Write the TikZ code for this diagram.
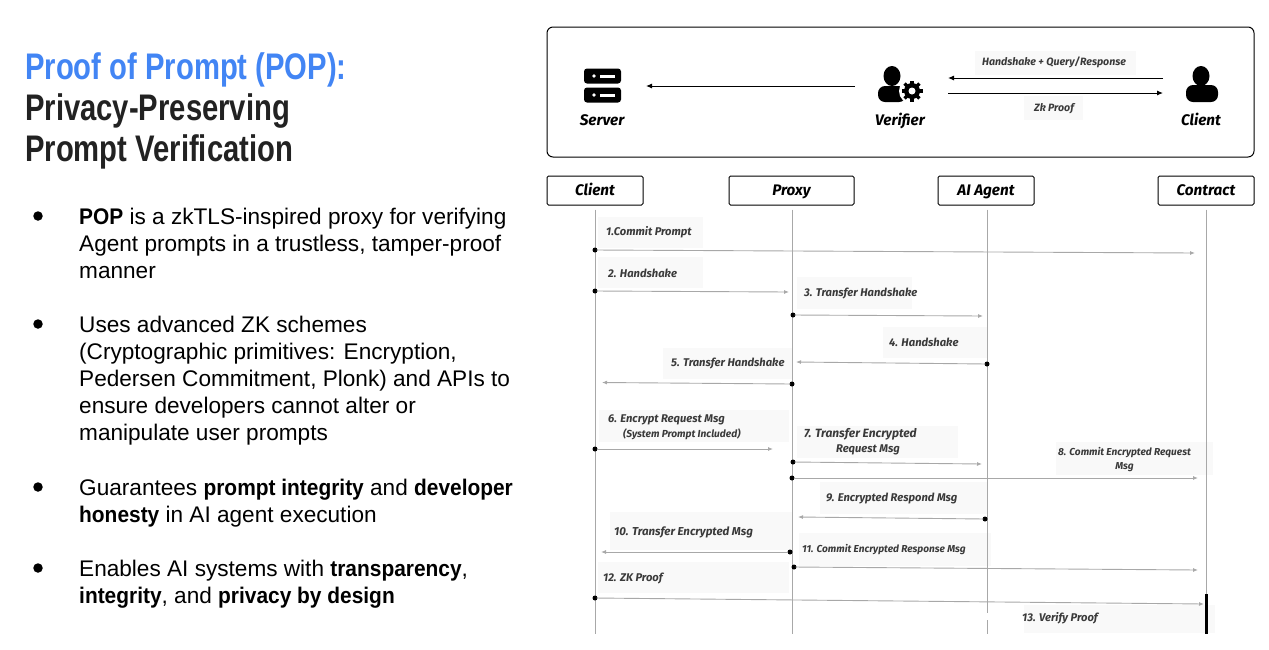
\documentclass[tikz,border=0pt]{standalone}
\usepackage{fontspec}
\setmainfont[BoldFeatures={FakeStretch=0.925}]{Liberation Sans}
\newfontfamily\titlefont[FakeStretch=0.79]{Liberation Sans}
\newfontfamily\diagfont{Fira Sans}
\usepackage{tikz}
\usetikzlibrary{arrows.meta, positioning}
\definecolor{popblue}{HTML}{4285F4}
\definecolor{titledark}{HTML}{222222}
\definecolor{labelbg}{HTML}{F9F9F9}
\definecolor{lifegray}{HTML}{A8A8A8}
\definecolor{msgdark}{HTML}{3A3A3A}

\begin{document}
\begin{tikzpicture}[x=1pt,y=-1pt,
     titleline/.style={anchor=base west,inner sep=0pt,font=\titlefont\bfseries\fontsize{37}{37}\selectfont},
     bullettext/.style={anchor=north west,inner sep=0pt,align=left,font=\fontsize{22.6}{27}\selectfont},
     bulletdot/.style={circle,fill=black,inner sep=0pt,minimum size=9.5pt},
     actor/.style={draw=black,line width=1pt,rounded corners=1.5pt,minimum height=29pt,inner sep=0pt,text height=11.5pt,text depth=1.5pt,font=\diagfont\bfseries\itshape\fontsize{15.3}{16}\selectfont},
     iconlabel/.style={inner sep=0pt,text height=11.5pt,text depth=1.5pt,font=\diagfont\bfseries\itshape\fontsize{15.3}{16}\selectfont},
     msglabel/.style={anchor=west,inner sep=0pt,align=left,text=msgdark,font=\diagfont\bfseries\itshape\fontsize{11.2}{15}\selectfont},
     smallmsg/.style={msglabel,font=\diagfont\bfseries\itshape\fontsize{10.1}{14.5}\selectfont},
     toplabel/.style={inner sep=0pt,text=msgdark,font=\diagfont\bfseries\itshape\fontsize{10.6}{12}\selectfont},
     dot/.style={circle,fill=black,inner sep=0pt,minimum size=5pt},
     msgarrow/.style={draw=lifegray,line width=0.9pt,-{Latex[length=5pt,width=4pt]},shorten <=-1pt},
     flow/.style={draw=black,line width=1pt,-{Latex[length=6pt,width=5pt]}},
     lifeline/.style={draw=lifegray,line width=1pt}
     ]
\useasboundingbox (0,0) rectangle (1269,649);

%Title on the left
\node[titleline,text=popblue] (title1) at (25,79.5) {Proof of Prompt (POP):};
\node[titleline,text=titledark] (title2) at (25,120.5) {Privacy-Preserving};
\node[titleline,text=titledark] (title3) at (25,161.5) {Prompt Verification};

%Bullets
\foreach \i/\y in {1/216,2/324,3/487,4/568}
   \node[bulletdot] (dot\i) at (38,\y) {};
\node[bullettext] (point1) at (79,208) {\textbf{POP} is a zkTLS-inspired proxy for verifying\\Agent prompts in a trustless, tamper-proof\\manner};
\node[bullettext] (point2) at (79,316) {Uses advanced ZK schemes\\(Cryptographic primitives: Encryption,\\Pedersen Commitment, Plonk) and APIs to\\ensure developers cannot alter or\\manipulate user prompts};
\node[bullettext] (point3) at (79,479) {Guarantees \textbf{prompt integrity} and \textbf{developer}\\\textbf{honesty} in AI agent execution};
\node[bullettext] (point4) at (79,560) {Enables AI systems with \textbf{transparency},\\\textbf{integrity}, and \textbf{privacy by design}};

%Top panel
\draw[line width=1pt,rounded corners=6pt] (547,27) rectangle (1254,157);
\fill[labelbg] (975,51) rectangle (1136,75);
\fill[labelbg] (1024,96) rectangle (1083,120);

%Server icon
\foreach \y in {68.5,87.5} {
   \fill[rounded corners=3pt] (584,\y) rectangle (621,{\y+15});
   \fill[white] (594,{\y+7.5}) circle (1.8pt);
   \fill[white] (600,{\y+6}) rectangle (615,{\y+9});
}
%Verifier icon
\fill (892,76) ellipse (8.5pt and 10pt);
\fill[rounded corners=7pt] (878,102) -- (878,86) -- (906,86) -- (906,102) -- cycle;
\fill[white] (912,91) circle (13pt);
\foreach \a in {0,45,...,315}
   \draw[line width=3.4pt] (912,91) -- ++(\a:10.5pt);
\fill (912,91) circle (8pt);
\fill[white] (912,91) circle (3.5pt);
%Client icon
\fill (1201,76) ellipse (8.5pt and 10pt);
\fill[rounded corners=7pt] (1186,102) -- (1186,85) -- (1218,85) -- (1218,102) -- cycle;

\node[iconlabel] (server) at (602,120) {Server};
\node[iconlabel] (verifier) at (900,120) {Verifier};
\node[iconlabel] (client) at (1201,120) {Client};
\node[toplabel] (query) at (1054,62.5) {Handshake + Query/Response};
\node[toplabel] (zkproof) at (1054,108.5) {Zk Proof};

\coordinate (serverin) at (646,86);
\coordinate (verifierout) at (855,86);
\coordinate (verifierin) at (948,78);
\coordinate (verifierback) at (948,93);
\coordinate (clientout) at (1163,78);
\coordinate (clientin) at (1163,93);
\draw[flow] (verifierout) -- (serverin);
\draw[flow] (clientout) -- (verifierin);
\draw[flow] (verifierback) -- (clientin);

%Label backgrounds of the sequence
\foreach \xa/\ya/\xb/\yb in {598/217/703/248,598/257/703/288,797/277/912/309,883/327/988/358,
   663/348/793/379,599/410/789/442,797/426/958/458,1056/442/1213/475,820/482/987/514,
   610/512/793/550,799/533/991/566,598/562/789/593,1024/605/1215/633}
   \fill[labelbg] (\xa,\ya) rectangle (\xb,\yb);

%Actors
\node[actor,minimum width=96pt] (cl) at (595,190.5) {Client};
\node[actor,minimum width=125pt] (px) at (791.5,190.5) {Proxy};
\node[actor,minimum width=96pt] (ag) at (986,190.5) {AI Agent};
\node[actor,minimum width=96pt] (ct) at (1206,190.5) {Contract};

%Lifelines
\coordinate (clend) at (595,634);
\coordinate (pxend) at (792,634);
\coordinate (agcut) at (987,613);
\coordinate (agres) at (987,620);
\coordinate (agend) at (987,634);
\coordinate (ctend) at (1206,594);
\coordinate (ctbar) at (1206,634);
\draw[lifeline] (cl.south) ++(0,4) -- (clend);
\draw[lifeline] (px.south) ++(0.5,4) -- (pxend);
\draw[lifeline] (ag.south) ++(1,4) -- (agcut);
\draw[lifeline] (agres) -- (agend);
\draw[lifeline] (ct.south) ++(0,4) -- (ctend);
\draw[line width=3pt] (ctend) -- (ctbar);

%Messages: start dot, then free end
\foreach \i/\xa/\ya/\xb/\yb in {1/595/250/1195/253,2/595/291/789/292,3/793/315/983/316,4/987/364/796/362,
   5/792/384/602/382.5,6/595/449/773/449,7/793/462/982/464,8/792/478/1198/478,9/985/519/798/517,
   10/790/552/601/552,11/794/567/1198/570,12/595/598/1204/604}
{
   \node[dot] (s\i) at (\xa,\ya) {};
   \coordinate (e\i) at (\xb,\yb);
   \draw[msgarrow] (s\i) -- (e\i);
}

%Message texts
\node[msglabel] (m1) at (606,232.5) {1.Commit Prompt};
\node[msglabel] (m2) at (608,273) {2. Handshake};
\node[msglabel] (m3) at (804,293.5) {3. Transfer Handshake};
\node[msglabel] (m4) at (889,342.5) {4. Handshake};
\node[msglabel] (m5) at (671,363.5) {5. Transfer Handshake};
\node[msglabel] (m6) at (608,427) {6. Encrypt Request Msg\\\hspace*{15pt}{\fontsize{10.2}{15}\selectfont (System Prompt Included)}};
\node[msglabel,font=\diagfont\bfseries\itshape\fontsize{12}{15}\selectfont] (m7) at (804,442) {7. Transfer Encrypted\\\hspace*{32pt}{\fontsize{11.2}{15}\selectfont Request Msg}};
\node[smallmsg,align=center] (m8) at (1058,459.5) {8. Commit Encrypted Request\\Msg};
\node[msglabel] (m9) at (826,498.5) {9. Encrypted Respond Msg};
\node[msglabel,font=\diagfont\bfseries\itshape\fontsize{11.5}{15}\selectfont] (m10) at (614,532.5) {10. Transfer Encrypted Msg};
\node[smallmsg] (m11) at (802,549.5) {11. Commit Encrypted Response Msg};
\node[msglabel] (m12) at (603,578) {12. ZK Proof};
\node[msglabel] (m13) at (1022,618) {13. Verify Proof};
\end{tikzpicture}
\end{document}
